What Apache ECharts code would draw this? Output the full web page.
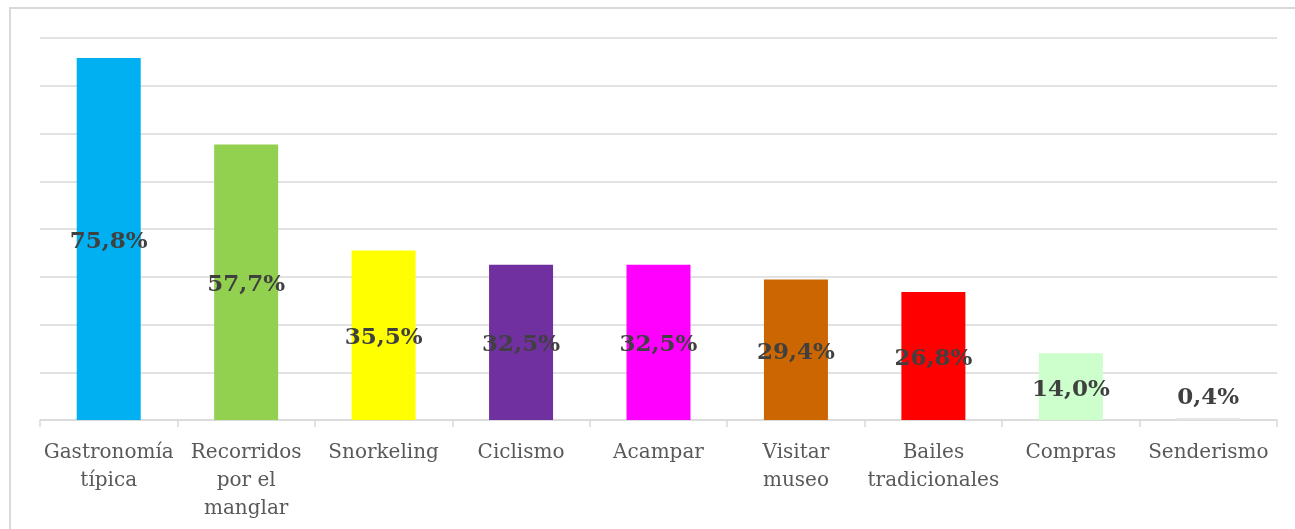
<!DOCTYPE html>
<html>
<head>
<meta charset="utf-8">
<script src="https://cdn.jsdelivr.net/npm/echarts@6/dist/echarts.min.js"></script>
<style>
  html, body { margin: 0; padding: 0; background: #fff; }
  #chart { width: 1295px; height: 529px; }
</style>
</head>
<body>
<div id="chart"></div>
<script>
// categorias (con salto de linea como en el original)
const categories = [
  'Gastronomía\ntípica',
  'Recorridos\npor el\nmanglar',
  'Snorkeling',
  'Ciclismo',
  'Acampar',
  'Visitar\nmuseo',
  'Bailes\ntradicionales',
  'Compras',
  'Senderismo'
]
const values = [75.8, 57.7, 35.5, 32.5, 32.5, 29.4, 26.8, 14.0, 0.4]
const colors = ['#00B0F0', '#92D050', '#FFFF00', '#7030A0', '#FF00FF', '#CC6600', '#FF0000', '#CCFFCC', '#E7E6E6']

const chart = echarts.init(document.getElementById('chart'))

const seriesData = values.map((v, i) => {
  let item = {
    value: v,
    itemStyle: { color: colors[i] }
  }
  // barra muy pequeña: etiqueta encima
  if (v < 5) {
    item.label = { position: 'top', distance: 9, offset: [0, 0] }
  }
  return item
})

chart.setOption({
  animation: false,
  graphic: [{
    type: 'rect',
    shape: { x: 10, y: 8, width: 1290, height: 540 },
    style: { fill: 'none', stroke: '#d9d9d9', lineWidth: 2 },
    silent: true
  }],
  grid: {
    left: 40,
    right: 18,
    top: 38,
    bottom: 109
  },
  xAxis: {
    type: 'category',
    data: categories,
    axisLine: { lineStyle: { color: '#d9d9d9', width: 1.5 } },
    axisTick: { show: true, length: 7, lineStyle: { color: '#d9d9d9', width: 1.5 } },
    axisLabel: {
      interval: 0,
      margin: 19,
      color: '#595959',
      fontFamily: 'DejaVu Serif',
      fontSize: 20,
      lineHeight: 28
    }
  },
  yAxis: {
    type: 'value',
    min: 0,
    max: 80,
    interval: 10,
    axisLabel: { show: false },
    axisLine: { show: false },
    axisTick: { show: false },
    splitLine: { lineStyle: { color: '#d9d9d9', width: 1.5 } }
  },
  series: [{
    type: 'bar',
    barWidth: 64,
    data: seriesData,
    label: {
      show: true,
      position: 'inside',
      offset: [0, 3],
      color: '#404040',
      fontFamily: 'DejaVu Serif',
      fontWeight: 'bold',
      fontSize: 23,
      formatter(p) {
        return p.value.toFixed(1).replace('.', ',') + '%'
      }
    }
  }]
})
</script>
</body>
</html>
